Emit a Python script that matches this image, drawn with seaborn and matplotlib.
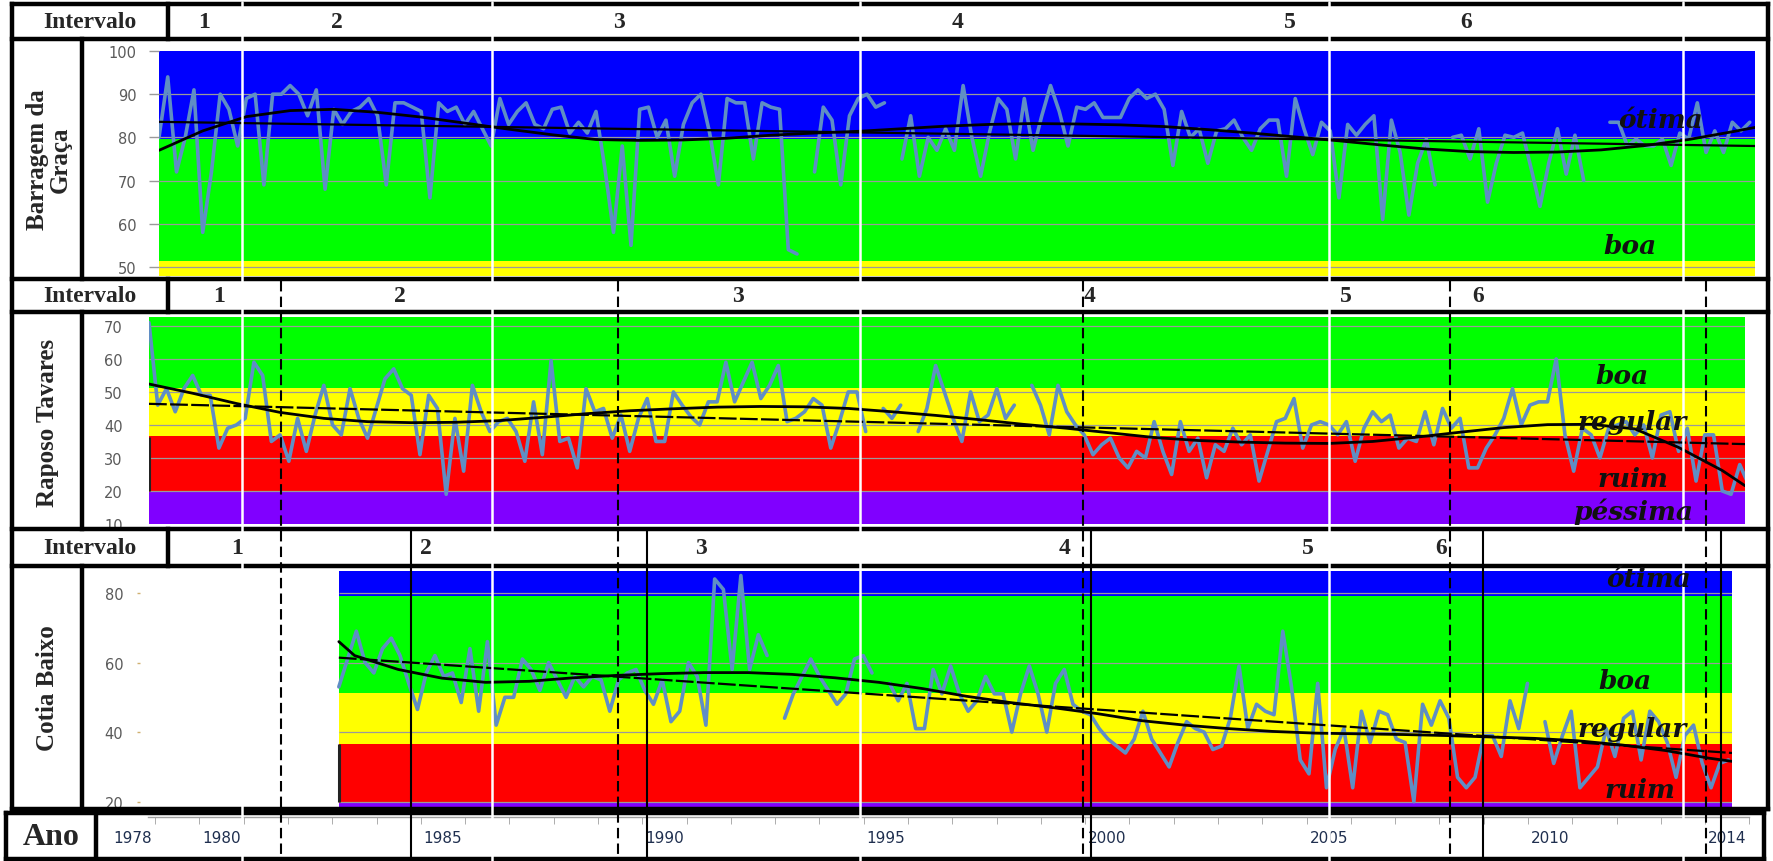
import numpy as np
import pandas as pd
import matplotlib
matplotlib.use('Agg')
import matplotlib.pyplot as plt
import seaborn as sns

LARGURA, ALTURA = 1773, 862
nan = np.nan

# ---- séries (5 amostras por ano) ----
graca_inicio = 1978.0
graca_valores = [
    80, 94, 72, 80, 91,  58, 72, 90, 86.5, 78,  89, 90, 69, 90, 90,
    92, 90, 85, 91, 68,  86.5, 83, 86, 87, 89,  85, 69, 88, 88, 87,
    86, 66, 88, 86, 87,  83, 86, 82, 78, 89,  83, 86, 88, 83, 82,
    86.5, 87, 81, 83.5, 81,  86, 73, 58, 78, 55,  86.5, 87, 80, 84, 71,
    83, 88, 90, 81, 69,  89, 88, 88, 75, 88,  87, 86.5, 54, 53, nan,
    72, 87, 84, 69, 85,  89, 90, 87, 88, nan,  75, 85, 71, 80, 77,
    82, 77, 92, 80, 71,  81, 89, 86.5, 75, 89,  77, 85, 92, 86, 78,
    87, 86.5, 88, 84.6, 84.6,  84.6, 89, 91, 89, 90,  86.5, 73.5, 86, 80, 82,
    74, 81.5, 82, 84, 80,  77, 82, 84, 84, 71,  89, 82, 76, 83.5, 81.5,
    66, 83, 80.5, 83, 85,  61, 84, 76.5, 62, 74,  79.6, 69, nan, 80, 80.5,
    75, 82, 65, 74, 80.5,  80, 81, 72.7, 64, 74,  82, 71.5, 80.5, 70, nan,
    nan, 83.5, 83.5, 78, 79.6,  78, 78, 79.6, 73.5, 81,  79.6, 88, 76.5, 81.5, 76.5,
    83.5, 81.5, 83.5,
]

raposo_inicio = 1978.0
raposo_valores = [
    71, 46, 51, 44, 51,  55, 49, 49, 33, 39,  40, 42, 59, 55, 35,
    37, 29, 42, 32, 43,  52, 40, 37, 51, 42,  36, 45, 54, 57, 51,
    49, 31, 49, 45, 19,  42, 26, 52, 44, 38,  41, 42, 38, 29, 47,
    31, 59.5, 35, 36, 27,  51, 44, 45, 36, 43,  32, 42, 48, 35, 35,
    50, 46, 42.5, 40, 47,  47, 59, 47, 53, 59,  48, 52, 58, 41, 42,
    44, 48, 46, 33, 41,  50, 50, 38, nan, 45,  42, 46, nan, 38, 45,
    58, 50, 42, 35, 50,  41, 43, 51, 42, 46,  nan, 52, 46, 37, 52,
    44, 40, 37, 31, 34,  36, 30, 27, 32, 30,  41, 32, 25, 41, 32,
    36, 24, 34, 32, 39,  34, 37, 23, 32, 41,  42, 48, 33, 40, 41,
    40, 37, 41, 29, 39,  44, 41, 43, 33, 36,  35, 44, 34, 45, 39,
    42, 27, 27, 33, 37,  42, 51, 40, 46, 47,  47, 60, 37, 26, 39,
    37, 30, 39, 40, 41,  37, 40, 30, 43, 44,  32, 39, 23, 37, 37,
    20, 19, 28, 22,
]

cotia_inicio = 1982.64
cotia_valores = [
    53, 61,
    69, 60, 57, 64, 67,  62, 54, 46.5, 57, 62,  56, 57, 48.5, 64, 46,
    66, 42, 50, 50, 61,  58, 52, 60, 55, 50,  56, 53, 56, 55, 46,
    55, 57, 58, 52, 48,  55, 43, 46, 60, 56,  42, 84, 81, 58, 85,
    58, 68, 62, nan, 44,  51, 56, 61, 56, 52,  48, 51, 61, 62, 57,
    nan, 54, 49, 54, 41,  41, 58, 51, 59, 51,  46, 49, 56, 51, 51,
    40, 51, 59, 51, 40,  54, 58, 48, 46, 45,  41, 38, 36, 34, 38,
    46, 38, 34, 30, 37,  43, 41, 40, 35, 36,  44, 59, 41, 48, 46,
    45, 69, 53, 32, 28,  54, 24, 35, 41, 24,  46, 37, 46, 45, 38,
    37, 20, 48, 42, 49,  44, 27, 24, 27, 39,  39, 33, 49, 41, 54,
    nan, 43, 31, 39, 46,  24, 27, 30, 41, 33,  44, 46, 32, 46, 43,
    37, 27, 39, 42, 31,  24, 31, 32,
]

# ---- linhas de tendência ----
graca_tend_anos = list(range(1978, 2015)) + [2014.52]
graca_tend = [77, 81.5, 84.8, 86.2, 86.5, 85.8, 84.7, 83.3, 81.9, 80.6, 79.5, 79.3,
              79.4, 79.8, 80.5, 81, 81.4, 82, 82.6, 83, 83.2, 83.1, 82.9, 82.5,
              81.8, 81, 80.1, 79.2, 78.2, 77.3, 76.7, 76.5, 76.6, 77.1, 78.1,
              79.5, 81.3, 82.3]
raposo_tend_anos = list(range(1978, 2015)) + [2014.52]
raposo_tend = [52.4, 49.6, 46.5, 43.8, 42, 41, 40.7, 40.8, 41.3, 42.3, 43.4, 44.3,
               44.9, 45.4, 45.6, 45.5, 45, 44, 42.9, 41.6, 40.2, 39, 37.6, 36.2,
               35.3, 34.8, 34.5, 34.4, 35, 36.3, 37.8, 39.2, 40.1, 40.2, 38.8,
               33.2, 26.2, 21.6]
cotia_tend_anos = [1982.64] + list(range(1983, 2015)) + [2014.52]
cotia_tend = [66, 62, 58, 55.5, 54.3, 54.6, 55.6, 56.3, 56.8, 57.1, 57.1, 56.6,
              55.6, 54.3, 52.5, 50.3, 48.5, 47, 45.3, 43.3, 42, 41, 40.2, 39.7,
              39.5, 39.3, 39, 38.6, 38.2, 37.5, 36.3, 34.7, 32.5, 31.6]

graca_linear = [83.6, 78.0]
raposo_linear = [46.4, 34.2]
cotia_linear = [61.4, 34.0]

# ---- faixas de qualidade (limite inferior, superior, classe) ----
graca_faixas = [(79.6, 100, 'ótima'), (51.4, 79.6, 'boa'), (47.9, 51.4, 'regular')]
raposo_faixas = [(51.2, 72.7, 'boa'), (36.7, 51.2, 'regular'), (19.7, 36.7, 'ruim'),
                 (10, 19.7, 'péssima')]
cotia_faixas = [(79.1, 86.3, 'ótima'), (51.2, 79.1, 'boa'), (36.5, 51.2, 'regular'),
                (19.7, 36.5, 'ruim'), (17.9, 19.7, 'péssima')]

graca_yticks = [50, 60, 70, 80, 90, 100]
raposo_yticks = [10, 20, 30, 40, 50, 60, 70]
cotia_yticks = [20, 40, 60, 80]

anos_rotulo = [1978, 1980, 1985, 1990, 1995, 2000, 2005, 2010, 2014]
intervalos = ['1', '2', '3', '4', '5', '6']

CORES = {'ótima': '#0000ff', 'boa': '#00ff00', 'regular': '#ffff00',
         'ruim': '#ff0000', 'péssima': '#8000ff'}
AZUL_LINHA = '#5f8ec4'
GRADE = '#9a9a9a'

sns.set_style('white')
fig = plt.figure(figsize=(LARGURA / 100, ALTURA / 100), dpi=100)


def add_ax(x0, y0, x1, y1):
    return fig.add_axes([x0 / LARGURA, 1 - y1 / ALTURA,
                         (x1 - x0) / LARGURA, (y1 - y0) / ALTURA])


def serie_df(inicio, valores):
    v = np.array(valores, dtype=float)
    anos = inicio + np.arange(len(v)) / 5
    seg = np.cumsum(np.isnan(v))
    return pd.DataFrame({'ano': anos, 'valor': v, 'seg': seg}).dropna()


def painel(ax, xlim, ylim, faixas, x_faixa, inicio, valores, tend_anos, tend,
           linear, yticks, tracejado, tick_len, tick_pad, tick_cor):
    ax.set_facecolor('white')
    for lo, hi, classe in faixas:
        ax.fill_between([x_faixa, xlim[1]], lo, hi, color=CORES[classe], lw=0, zorder=0)
    grade = [t for t in yticks if ylim[0] < t < ylim[1]]
    ax.hlines(grade, x_faixa, xlim[1], color=GRADE, lw=0.9, zorder=1)
    ax.vlines(x_faixa, 20, 36.5, color='#222222', lw=2.2, zorder=1.5)

    df = serie_df(inicio, valores)
    sns.lineplot(data=df, x='ano', y='valor', units='seg', estimator=None,
                 color=AZUL_LINHA, lw=2.6, ax=ax, legend=False, zorder=3)
    sns.lineplot(x=tend_anos, y=tend, color='black', lw=2.0, ax=ax,
                 estimator=None, zorder=4)
    estilo = (0, (8, 1.5)) if tracejado else '-'
    ax.plot([x_faixa, xlim[1]], linear, color='black', lw=1.6, ls=estilo, zorder=4)

    ax.set_xlim(*xlim)
    ax.set_ylim(*ylim)
    ax.set_xticks([])
    ax.set_yticks(yticks)
    ax.set_xlabel('')
    ax.set_ylabel('')
    ax.tick_params(axis='y', left=True, length=tick_len, width=1, color=tick_cor,
                   pad=tick_pad, labelsize=10.5, labelcolor='#5a5a5a')
    for s in ax.spines.values():
        s.set_visible(False)


ax1 = add_ax(159, 52, 1755, 277)
painel(ax1, (1978.0, 2014.52), (47.9, 100), graca_faixas, 1978.0, graca_inicio,
       graca_valores, graca_tend_anos, graca_tend, graca_linear, graca_yticks,
       False, 7, 9, GRADE)

ax2 = add_ax(149, 318, 1745, 525)
painel(ax2, (1978.0, 2014.52), (10, 72.7), raposo_faixas, 1978.0, raposo_inicio,
       raposo_valores, raposo_tend_anos, raposo_tend, raposo_linear, raposo_yticks,
       True, 0, 19, GRADE)

ax3 = add_ax(140, 572, 1732, 810)
painel(ax3, (1978.09, 2014.52), (17.9, 86.3), cotia_faixas, cotia_inicio, cotia_inicio,
       cotia_valores, cotia_tend_anos, cotia_tend, cotia_linear, cotia_yticks,
       True, 2, 10, '#d0b070')

# ---- eixo dos anos ----
axa = add_ax(96, 818, 1764, 860)
axa.set_xlim(1977.164, 2014.83)
axa.set_ylim(0, 1)
axa.set_yticks([])
for nome, s in axa.spines.items():
    s.set_visible(nome == 'top')
axa.spines['top'].set_bounds(1978.33, 2014.5)
axa.spines['top'].set_color('#a0a0a0')
axa.spines['top'].set_linewidth(1)
axa.set_xticks(np.arange(1978.5, 2015, 1), minor=True)
axa.set_xticks(anos_rotulo, [str(a) for a in anos_rotulo])
axa.tick_params(axis='x', which='minor', top=True, bottom=False, direction='in',
                length=5, color='#a0a0a0')
axa.tick_params(axis='x', which='major', top=False, bottom=True, length=0,
                pad=-21, labelsize=11, labelcolor='#1f2f4f')

# ---- moldura, divisões e textos ----
ov = fig.add_axes([0, 0, 1, 1], zorder=10)
ov.set_xlim(0, LARGURA)
ov.set_ylim(ALTURA, 0)
ov.axis('off')
ov.patch.set_alpha(0)

serif = dict(family='Liberation Serif', weight='bold')

bordas_h = [(5, 12, 1768), (40, 12, 1768), (280, 12, 1768), (313, 12, 1768),
            (530, 12, 1768), (567, 12, 1768), (810, 12, 1768), (814, 6, 1764),
            (860, 6, 1764)]
bordas_v = [(12, 5, 810), (1768, 5, 810), (168, 5, 40), (168, 280, 313),
            (168, 530, 567), (82, 40, 280), (82, 313, 530), (82, 567, 810),
            (6, 814, 860), (96, 814, 860), (1764, 814, 860)]
for y, x0, x1 in bordas_h:
    ov.plot([x0, x1], [y, y], color='black', lw=3.2, solid_capstyle='projecting')
for x, y0, y1 in bordas_v:
    ov.plot([x, x], [y0, y1], color='black', lw=3.2, solid_capstyle='projecting')

# limites dos intervalos
for x in [411, 647, 1091, 1483, 1721]:
    ov.plot([x, x], [530, 862], color='black', lw=1.5)
for x in [281, 618, 1083, 1450, 1706]:
    ov.plot([x, x], [282, 862], color='black', lw=1.5, dashes=(5, 2.5))
for x in [242, 492, 860, 1329, 1683]:
    ov.plot([x, x], [3, 862], color='white', lw=1.8)

linhas_y = [22, 297, 549]
pos_intervalos = [[204, 337, 619, 958, 1290, 1466],
                  [219, 400, 738, 1090, 1346, 1478],
                  [237, 426, 701, 1065, 1308, 1441]]
for y, xs in zip(linhas_y, pos_intervalos):
    ov.text(90, y, 'Intervalo', ha='center', va='center', fontsize=17, **serif)
    for x, rotulo in zip(xs, intervalos):
        ov.text(x, y, rotulo, ha='center', va='center', fontsize=17, **serif)

for texto, x, y in [('Barragem da\nGraça', 49, 160), ('Raposo Tavares', 48, 423),
                    ('Cotia Baixo', 48, 688)]:
    ov.text(x, y, texto, rotation=90, ha='center', va='center', fontsize=18,
            linespacing=0.95, **serif)

ov.text(51, 838, 'Ano', ha='center', va='center', fontsize=23, **serif)

manuscrito = [('ótima', 1660, 120), ('boa', 1630, 247),
              ('boa', 1622, 377), ('regular', 1632, 423), ('ruim', 1633, 480),
              ('péssima', 1633, 512),
              ('ótima', 1648, 580), ('boa', 1625, 682), ('regular', 1632, 730),
              ('ruim', 1640, 791)]
for texto, x, y in manuscrito:
    ov.text(x, y, texto, ha='center', va='center', fontsize=19, color='#111111',
            family='DejaVu Serif', style='italic', weight='bold')

fig.savefig('out.png', dpi=100)
